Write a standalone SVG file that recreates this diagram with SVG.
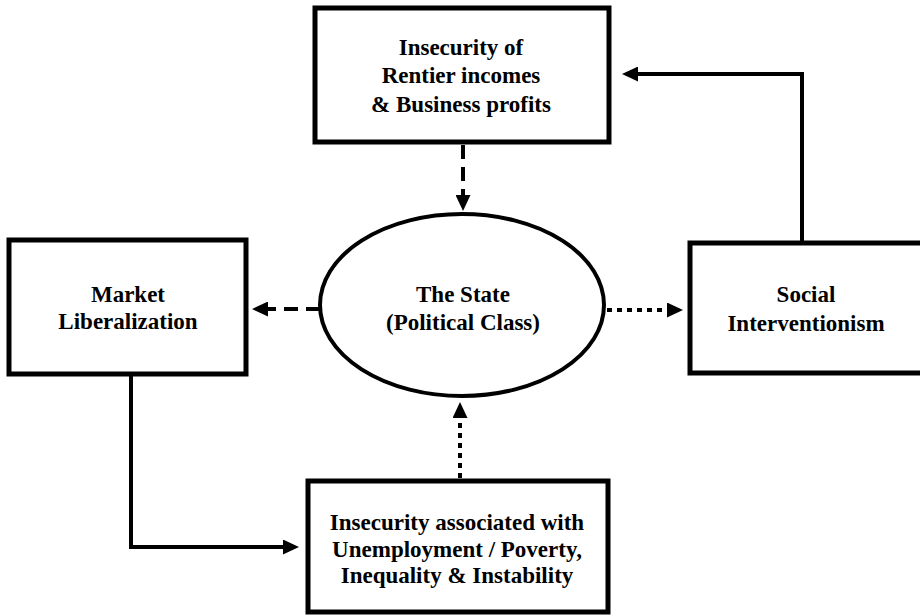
<svg xmlns="http://www.w3.org/2000/svg" width="920" height="616" viewBox="0 0 920 616">
  <style>
    .box { fill: #ffffff; stroke: #000000; stroke-width: 5; }
    .oval { fill: #ffffff; stroke: #000000; stroke-width: 4; }
    .label { font-family: 'Liberation Serif', 'DejaVu Serif', serif; font-weight: bold; font-size: 23px; fill: #000000; text-anchor: middle; }
    .link { fill: none; stroke: #000000; stroke-width: 4; }
    .dashed { stroke-dasharray: 14 8; }
    .dotted { stroke-dasharray: 5 5; }
  </style>
  <defs>
    <marker id="head" viewBox="0 0 16 15" refX="0" refY="7.5" markerWidth="16" markerHeight="15" markerUnits="userSpaceOnUse" orient="auto">
      <path d="M0,0 L16,7.5 L0,15 z" fill="#000000"/>
    </marker>
  </defs>

  <rect width="920" height="616" fill="#ffffff"/>

  <!-- connectors -->
  <g id="connectors">
    <line class="link dashed" x1="463" y1="145" x2="463" y2="195" marker-end="url(#head)"/>
    <line class="link dashed" x1="320" y1="309" x2="268" y2="309" marker-end="url(#head)"/>
    <line class="link dotted" x1="607" y1="310" x2="667" y2="310" marker-end="url(#head)"/>
    <line class="link dotted" x1="460" y1="478" x2="460" y2="418" marker-end="url(#head)"/>
    <polyline class="link" points="802,242 802,74 638,74" marker-end="url(#head)"/>
    <polyline class="link" points="131,374 131,547 283,547" marker-end="url(#head)"/>
  </g>

  <!-- top: insecurity of rentier incomes -->
  <g id="node-rentier">
    <rect class="box" x="315" y="8" width="294" height="134"/>
    <text class="label" x="461" y="55">Insecurity of</text>
    <text class="label" x="461" y="83">Rentier incomes</text>
    <text class="label" x="461" y="112">&amp; Business profits</text>
  </g>

  <!-- centre: the state -->
  <g id="node-state">
    <ellipse class="oval" cx="462" cy="305" rx="142" ry="91"/>
    <text class="label" x="463" y="302">The State</text>
    <text class="label" x="463" y="330">(Political Class)</text>
  </g>

  <!-- left: market liberalization -->
  <g id="node-market">
    <rect class="box" x="9" y="240" width="237" height="134"/>
    <text class="label" x="128" y="302">Market</text>
    <text class="label" x="128" y="329">Liberalization</text>
  </g>

  <!-- right: social interventionism -->
  <g id="node-social">
    <rect class="box" x="690" y="243" width="240" height="130"/>
    <text class="label" x="806" y="302">Social</text>
    <text class="label" x="806" y="331">Interventionism</text>
  </g>

  <!-- bottom: insecurity of unemployment and poverty -->
  <g id="node-poverty">
    <rect class="box" x="308" y="481" width="300" height="131"/>
    <text class="label" x="457" y="530">Insecurity associated with</text>
    <text class="label" x="457" y="557">Unemployment / Poverty,</text>
    <text class="label" x="457" y="583">Inequality &amp; Instability</text>
  </g>
</svg>
